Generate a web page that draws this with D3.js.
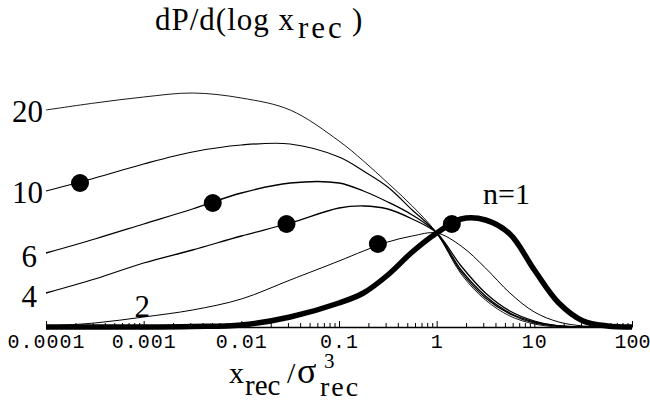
<!DOCTYPE html>
<html lang="en">
<head>
  <meta charset="UTF-8">
  <title>dP/d(log x)</title>
  <style>
    body { margin: 0; background: #fff; }
    text { fill: #000; }
  </style>
</head>
<body>
  <div id="my_dataviz"></div>
  <script src="https://d3js.org/d3.v7.min.js"></script>
  <script>

    // sample points along x (x_rec / sigma^3)
    const xGrid = [0.0001, 0.000316, 0.001, 0.00316, 0.01, 0.0316, 0.1, 0.178, 0.316, 0.562,
                   1, 1.78, 3.16, 5.62, 10, 17.8, 31.6, 56.2, 100];

    // dP/d(log x) for each n (arbitrary units)
    const n20 = [2.17, 2.24, 2.30, 2.34, 2.29, 2.17, 1.86, 1.66, 1.44, 1.21,
                 0.94, 0.53, 0.27, 0.11, 0.03, 0, 0, 0, 0];
    const n10 = [1.36, 1.49, 1.63, 1.75, 1.82, 1.83, 1.70, 1.56, 1.40, 1.17,
                 0.94, 0.55, 0.29, 0.13, 0.04, 0.01, 0, 0, 0];
    const n6  = [0.74, 0.88, 1.03, 1.18, 1.34, 1.44, 1.44, 1.36, 1.25, 1.12,
                 0.94, 0.57, 0.31, 0.14, 0.05, 0.01, 0, 0, 0];
    const n4  = [0.34, 0.48, 0.64, 0.77, 0.91, 1.04, 1.19, 1.21, 1.18, 1.08,
                 0.94, 0.61, 0.34, 0.16, 0.06, 0.01, 0, 0, 0];
    const n2  = [0.01, 0.04, 0.10, 0.17, 0.28, 0.47, 0.66, 0.76, 0.85, 0.91,
                 0.94, 0.81, 0.59, 0.34, 0.15, 0.05, 0.01, 0, 0];
    const n1  = [0, 0, 0, 0.005, 0.02, 0.10, 0.24, 0.34, 0.52, 0.75,
                 0.94, 1.08, 1.07, 0.93, 0.57, 0.24, 0.06, 0.01, 0];

    // marked points
    const dotX = [0.000223, 0.0051, 0.029, 0.25, 1.43];
    const dotY = [1.44, 1.24, 1.03, 0.83, 1.03];

    const tickValues = [0.0001, 0.001, 0.01, 0.1, 1, 10, 100];
    const tickLabels = ["0.0001", "0.001", "0.01", "0.1", "1", "10", "100"];

    const width = 650, height = 407;

    const svg = d3.select("#my_dataviz")
      .append("svg")
      .attr("width", width)
      .attr("height", height);

    const x = d3.scaleLog()
      .domain([0.0001, 100])
      .range([46, 632]);

    const y = d3.scaleLinear()
      .domain([0, 2.5])
      .range([327, 77]);

    // minor ticks (inside, pointing up)
    const minor = [];
    for (let e = -4; e < 2; e++) {
      for (let k = 2; k <= 9; k++) minor.push(k * Math.pow(10, e));
    }
    svg.append("g")
      .attr("transform", `translate(0,${y(0)})`)
      .call(d3.axisBottom(x).tickValues(minor).tickSize(-4).tickSizeOuter(0).tickFormat(""))
      .call(g => g.select(".domain").remove())
      .selectAll("line").attr("stroke", "#000");

    // main axis
    svg.append("g")
      .attr("transform", `translate(0,${y(0)})`)
      .call(d3.axisBottom(x)
        .tickValues(tickValues)
        .tickSize(-6)
        .tickSizeOuter(0)
        .tickFormat((d, i) => tickLabels[i]))
      .call(g => g.select(".domain").attr("stroke", "#000").attr("stroke-width", 1.5))
      .call(g => g.selectAll("text")
        .attr("y", 21)
        .attr("dy", 0)
        .style("font-family", "'Liberation Mono', monospace")
        .style("font-size", "20px")
        .style("letter-spacing", (d, i) => i === tickValues.length - 1 ? "0px" : "1px")
        .attr("fill", "#000"));

    const line = d3.line()
      .x((d, i) => x(xGrid[i]))
      .y(d => y(Math.max(0, d)))
      .curve(d3.curveCatmullRom.alpha(0.5));

    const series = [
      { vals: n20, w: 0.9 },
      { vals: n10, w: 1.2 },
      { vals: n6, w: 1.3 },
      { vals: n4, w: 1.3 },
      { vals: n2, w: 1.0 },
      { vals: n1, w: 5.5 }
    ];

    svg.append("g")
      .selectAll("path")
      .data(series)
      .join("path")
      .attr("d", d => line(d.vals))
      .attr("fill", "none")
      .attr("stroke", "#000")
      .attr("stroke-width", d => d.w)
      .attr("stroke-linejoin", "round");

    svg.append("g")
      .selectAll("circle")
      .data(dotX)
      .join("circle")
      .attr("cx", d => x(d))
      .attr("cy", (d, i) => y(dotY[i]))
      .attr("r", 9)
      .attr("fill", "#000");

    const serif = "'Liberation Serif', 'Times New Roman', serif";

    // curve labels
    const curveLabels = [
      { t: "20", x: 43, y: 122 },
      { t: "10", x: 43, y: 203 },
      { t: "6", x: 37, y: 267 },
      { t: "4", x: 37, y: 307 },
      { t: "2", x: 150, y: 317 }
    ];
    svg.append("g")
      .selectAll("text")
      .data(curveLabels)
      .join("text")
      .attr("x", d => d.x)
      .attr("y", d => d.y)
      .attr("text-anchor", "end")
      .style("font-family", serif)
      .style("font-size", "31px")
      .text(d => d.t);

    svg.append("text")
      .attr("x", 483)
      .attr("y", 204)
      .style("font-family", serif)
      .style("font-size", "30px")
      .text("n=1");

    // y title
    const title = svg.append("text")
      .attr("x", 155)
      .attr("y", 30)
      .style("font-family", serif)
      .style("font-size", "31px");
    title.append("tspan").style("letter-spacing", "1px").text("dP/d(log x");
    title.append("tspan").attr("x", 298).attr("dy", 8).style("letter-spacing", "3px").text("rec");
    title.append("tspan").attr("x", 352).attr("dy", -8).text(")");

    // x title
    const xt = svg.append("text")
      .attr("x", 229)
      .attr("y", 383)
      .style("font-family", serif)
      .style("font-size", "30px");
    xt.append("tspan").text("x");
    xt.append("tspan").attr("x", 245).attr("dy", 12).style("font-size", "29px").text("rec");
    xt.append("tspan").attr("x", 287).attr("dy", -12).text("/");
    xt.append("tspan").attr("x", 297).style("font-size", "36px").text("σ");
    xt.append("tspan").attr("x", 320).attr("dy", 13).style("font-size", "28px").style("letter-spacing", "2px").text("rec");
    xt.append("tspan").attr("x", 324).attr("dy", -28).style("font-size", "21px").text("3");

  </script>
</body>
</html>
